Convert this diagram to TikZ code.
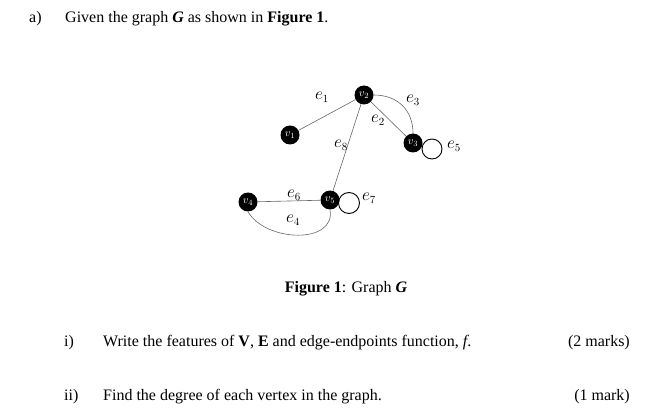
\documentclass[tikz,border=0pt]{standalone}
\usepackage{fontspec}
\setmainfont{Liberation Serif}
\begin{document}
\begin{tikzpicture}[x=1pt,y=-1pt,
  vert/.style={circle,fill=black,minimum size=19pt,inner sep=0pt,text=white,font=\fontsize{11}{11}\selectfont},
  edge/.style={draw=gray!80!black,line width=0.6pt},
  loopc/.style={draw=black,line width=0.9pt},
  elab/.style={font=\fontsize{16}{16}\selectfont},
  txt/.style={anchor=base west,font=\fontsize{16}{18}\selectfont,inner sep=0pt}]
\useasboundingbox (0,0) rectangle (661,414);
\node[vert] (v1) at (290,135) {$v_1$};
\node[vert] (v2) at (364,95) {$v_2$};
\node[vert] (v3) at (413,143) {$v_3$};
\node[vert] (v4) at (248,202) {$v_4$};
\node[vert] (v5) at (330,200) {$v_5$};
\draw[edge] (v1) -- (v2);
\draw[edge] (v2) -- (v3);
\draw[edge] (v2.east) to[out=0,in=90,looseness=1.1] (v3.north);
\draw[edge] (v2) -- (v5);
\draw[edge] (v4) -- (v5);
\draw[edge] (v4.south) to[out=-60,in=-80,looseness=1.1] (v5.south);
\draw[loopc] (432,149) circle (10);
\draw[loopc] (349,203) circle (10.5);
\node[elab] (e1) at (322,97) {$e_1$};
\node[elab] (e2) at (378,120) {$e_2$};
\node[elab] (e3) at (413,100) {$e_3$};
\node[elab] (e5) at (454,146) {$e_5$};
\node[elab] (e8) at (341,145) {$e_8$};
\node[elab] (e6) at (294,195) {$e_6$};
\node[elab] (e7) at (369,198) {$e_7$};
\node[elab] (e4) at (293,220) {$e_4$};
\node[txt] (a) at (29,23) {a)};
\node[txt] (q) at (65,23) {Given the graph \textbf{\textit{G}} as shown in \textbf{Figure 1}.};
\node[txt,anchor=base] (cap) at (346,292) {\textbf{Figure 1}: Graph \textbf{\textit{G}}};
\node[txt] (i) at (64,346) {i)};
\node[txt] (it) at (103,346) {Write the features of \textbf{V}, \textbf{E} and edge-endpoints function, \textit{f}.};
\node[txt,anchor=base east] (im) at (630,346) {(2 marks)};
\node[txt] (ii) at (64,400) {ii)};
\node[txt] (iit) at (103,400) {Find the degree of each vertex in the graph.};
\node[txt,anchor=base east] (iim) at (630,400) {(1 mark)};
\end{tikzpicture}
\end{document}
